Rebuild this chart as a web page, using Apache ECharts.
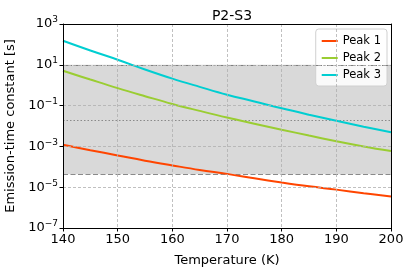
<!DOCTYPE html>
<html><head><meta charset="utf-8">
<script src="https://cdn.jsdelivr.net/npm/echarts@6/dist/echarts.min.js"></script>
<style>html,body{margin:0;padding:0;background:#fff}#c{width:411px;height:272px}</style>
</head><body><div id="c"></div>
<script>
const temps = [140,145,150,155,160,165,170,175,180,185,190,195,200];
const peak1 = [1.2e-3,6.5e-4,3.6e-4,2.0e-4,1.17e-4,7.0e-5,4.5e-5,2.75e-5,1.7e-5,1.1e-5,7.6e-6,5.1e-6,3.5e-6];
const peak2 = [5.1,1.9,0.72,0.29,0.12,0.055,0.026,0.013,6.6e-3,3.4e-3,1.8e-3,1.0e-3,5.9e-4];
const peak3 = [150,50,17.8,5.9,2.1,0.83,0.34,0.16,0.074,0.036,0.018,0.0092,0.0049];
const seriesNames = ['Peak 1','Peak 2','Peak 3'];
const seriesColors = ['#ff4500','#9acd32','#00ced1'];
const xTicks = [140,150,160,170,180,190,200];
const yTickExps = [-7,-5,-3,-1,1,3];
const bandTop = 10, bandBottom = 4.3e-5, dottedLevel = 0.02;

const L = v => Math.log10(v);
const chart = echarts.init(document.getElementById('c'));
const font = 'DejaVu Sans';
const mk = (name, vals, color) => ({
  name, type:'line', showSymbol:false, smooth:0.4, color,
  lineStyle:{width:2, color},
  data: temps.map((t,i)=>[t, L(vals[i])]), z:5
});
const s = [mk(seriesNames[0],peak1,seriesColors[0]), mk(seriesNames[1],peak2,seriesColors[1]), mk(seriesNames[2],peak3,seriesColors[2])];
s[0].markArea = {silent:true, itemStyle:{color:'#d9d9d9'}, data:[[{yAxis:L(bandBottom)},{yAxis:L(bandTop)}]], z:1};
s[0].markLine = {silent:true, symbol:'none', label:{show:false}, data:[
  {yAxis:L(bandTop), lineStyle:{color:'#7f7f7f', type:[6,2,1,2], width:1.2}},
  {yAxis:L(dottedLevel), lineStyle:{color:'#8a8a8a', type:[1.5,2], width:1.2}},
  {yAxis:L(bandBottom), lineStyle:{color:'#8a8a8a', type:[5,2.5], width:1.2}}
]};
const frameAxis = (extra) => Object.assign({type:'value', axisLine:{show:true, onZero:false, lineStyle:{color:'#000', width:1}}, axisTick:{show:false}, axisLabel:{show:false}, splitLine:{show:false}, z:10}, extra);
chart.setOption({
  animation:false,
  textStyle:{fontFamily:font},
  title:{text:'P2-S3', left:227, top:4, textAlign:'center', textStyle:{fontFamily:font, fontSize:14, fontWeight:'normal', color:'#000'}},
  legend:{right:24, top:29, orient:'vertical', itemWidth:16, itemHeight:2, itemGap:5,
    backgroundColor:'rgba(255,255,255,0.85)', borderColor:'#d0d0d0', borderWidth:1, borderRadius:3, padding:[6,6,5,6],
    textStyle:{fontFamily:font, fontSize:11.5, color:'#000'}, icon:'rect',
    data:seriesNames},
  grid:{left:63, right:20, top:24, bottom:44, show:false, containLabel:false, outerBoundsMode:'none'},
  xAxis:[{type:'value', min:140, max:200, interval:10,
    name:'Temperature (K)', nameLocation:'middle', nameGap:26, nameTextStyle:{fontFamily:font, fontSize:13, color:'#000'},
    axisLine:{onZero:false, lineStyle:{color:'#000'}}, axisTick:{length:3.5, lineStyle:{color:'#000'}},
    axisLabel:{fontSize:13, color:'#000', margin:5, formatter:v=>xTicks.includes(v)?String(v):''},
    splitLine:{show:true, lineStyle:{color:'#b0b0b0', type:[3,2], width:0.8}}, z:10},
    frameAxis({position:'top', min:140, max:200})],
  yAxis:[{type:'value', min:-7, max:3, interval:2,
    name:'Emission-time constant [s]', nameLocation:'middle', nameGap:45, nameTextStyle:{fontFamily:font, fontSize:13, color:'#000'},
    axisLine:{onZero:false, lineStyle:{color:'#000'}}, axisTick:{length:3.5, lineStyle:{color:'#000'}},
    axisLabel:{color:'#000', margin:5, formatter:v=>yTickExps.includes(v)?'{b|10}{s|'+(v<0?'\u2212':'')+Math.abs(v)+'}':'',
      rich:{b:{fontSize:13, fontFamily:font, color:'#000'}, s:{fontSize:9, fontFamily:font, color:'#000', verticalAlign:'top', padding:[0,0,8,0]}}},
    splitLine:{show:true, lineStyle:{color:'#b0b0b0', type:[3,2], width:0.8}}, z:10},
    frameAxis({position:'right', min:-7, max:3})],
  series:s
});
</script></body></html>
